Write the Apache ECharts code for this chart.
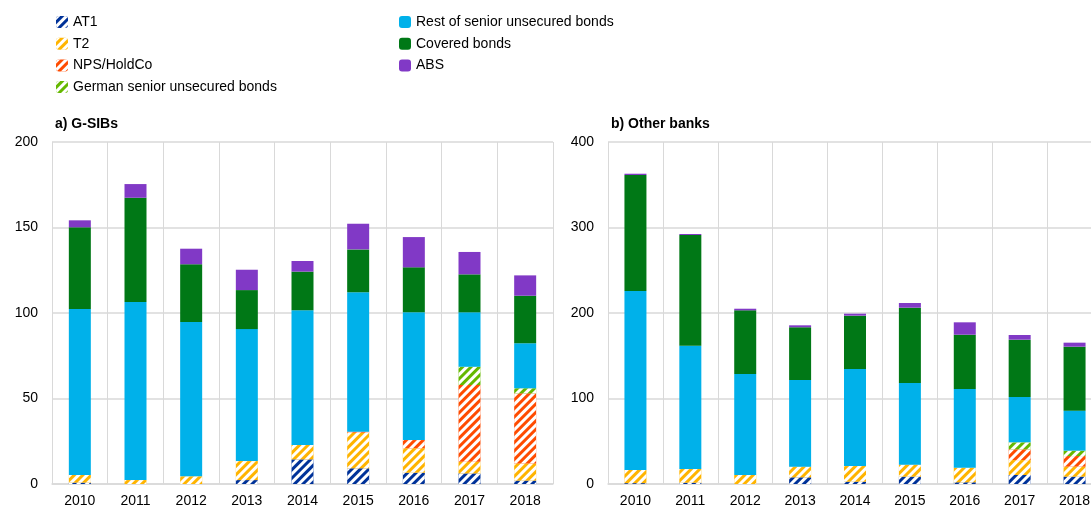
<!DOCTYPE html>
<html><head><meta charset="utf-8">
<script src="https://cdn.jsdelivr.net/npm/echarts@6/dist/echarts.min.js"></script>
<style>html,body{margin:0;padding:0;background:#fff}#c{width:1091px;height:508px}</style>
</head><body><div id="c"></div>
<script>
const years = ['2010','2011','2012','2013','2014','2015','2016','2017','2018'];
const seriesNames = ['AT1','T2','NPS/HoldCo','German senior unsecured bonds','Rest of senior unsecured bonds','Covered bonds','ABS'];
// a) G-SIBs
const gsibAT1    = [0.8, 0, 0, 2.3, 14.4, 9.2, 6.6, 6.2, 2];
const gsibT2     = [4.5, 2.3, 4.5, 11.1, 8.4, 20.8, 14.3, 6.8, 10];
const gsibNPS    = [0, 0, 0, 0, 0, 0.6, 4.8, 44.9, 41];
const gsibGerman = [0, 0, 0, 0, 0, 0, 0, 10.7, 3];
const gsibRest   = [97, 104.1, 90.2, 77.2, 78.8, 81.5, 74.7, 31.8, 26.3];
const gsibCovered= [47.8, 61, 33.8, 22.8, 22.6, 25.1, 26.3, 22.2, 27.8];
const gsibABS    = [4.1, 8, 9.1, 11.9, 6.2, 15, 17.7, 13.1, 11.9];
// b) Other banks
const othAT1     = [1, 1.5, 0, 7.8, 2.7, 8.6, 2, 10.5, 8.6];
const othT2      = [15.4, 16, 10.5, 12.5, 18.3, 14, 17, 17.5, 11.7];
const othNPS     = [0, 0, 0, 0, 0, 0, 0, 12.6, 12.4];
const othGerman  = [0, 0, 0, 0, 0, 0, 0, 8.1, 6.3];
const othRest    = [209.3, 144.3, 118.2, 101.3, 113.5, 95.5, 92.1, 53.1, 46.8];
const othCovered = [135.7, 129.4, 74.4, 61.7, 62.4, 88.1, 63.5, 67, 74.8];
const othABS     = [1.5, 1.2, 1.9, 2.3, 2.3, 5.5, 14.5, 5.5, 4.7];
const yTicksLeft = [0, 50, 100, 150, 200];
const yTicksRight = [0, 100, 200, 300, 400];

const colors = ['#003299','#ffb400','#ff4b00','#65b800','#00b1ea','#007816','#8139c6'];
const hatched = [true,true,true,true,false,false,false];
const gsib = [gsibAT1,gsibT2,gsibNPS,gsibGerman,gsibRest,gsibCovered,gsibABS];
const oth = [othAT1,othT2,othNPS,othGerman,othRest,othCovered,othABS];

function mkSeries(data, idx, gi) {
  const item = { color: colors[idx] };
  if (hatched[idx]) {
    item.decal = { symbol: 'rect', symbolSize: 1, dashArrayX: [1, 0], dashArrayY: [2.5, 2.5], rotation: -Math.PI / 4, color: '#ffffff' };
  }
  return {
    name: seriesNames[idx], type: 'bar', stack: 's' + gi, xAxisIndex: gi, yAxisIndex: gi,
    barWidth: 22, data: data, itemStyle: item, emphasis: { disabled: true }
  };
}
const series = [];
gsib.forEach((d, i) => series.push(mkSeries(d, i, 0)));
oth.forEach((d, i) => series.push(mkSeries(d, i, 1)));

const font = 'Liberation Sans, Arial, sans-serif';
const catAxis = (gi) => ({
  type: 'category', gridIndex: gi, data: years,
  axisLine: { lineStyle: { color: '#d9d9d9', width: 1.5 } },
  axisTick: { show: false },
  axisLabel: { color: '#000', fontSize: 14, fontFamily: font, margin: 10 },
  splitLine: { show: true, lineStyle: { color: '#d9d9d9', width: 1 } }
});
const valAxis = (gi, ticks) => ({
  type: 'value', gridIndex: gi, min: ticks[0], max: ticks[ticks.length - 1], interval: ticks[1] - ticks[0],
  axisLine: { show: false }, axisTick: { show: false },
  axisLabel: { color: '#000', fontSize: 14, fontFamily: font, margin: 14 },
  splitLine: { lineStyle: { color: '#d9d9d9', width: 1.5 } }
});

const legendText = { color: '#000', fontSize: 14, fontFamily: font };
const chart = echarts.init(document.getElementById('c'), null, { renderer: 'canvas' });
chart.setOption({
  animation: false,
  textStyle: { fontFamily: font },
  title: [
    { text: 'a) G-SIBs', left: 50, top: 112, textStyle: { fontSize: 14, fontWeight: 'bold', color: '#000', fontFamily: font } },
    { text: 'b) Other banks', left: 606, top: 112, textStyle: { fontSize: 14, fontWeight: 'bold', color: '#000', fontFamily: font } }
  ],
  legend: [
    { data: seriesNames.slice(0, 4), orient: 'vertical', left: 51, top: 10, itemWidth: 12, itemHeight: 12, itemGap: 7.7, textStyle: legendText, selectedMode: false },
    { data: seriesNames.slice(4), orient: 'vertical', left: 394, top: 10, itemWidth: 12, itemHeight: 12, itemGap: 7.7, textStyle: legendText, selectedMode: false }
  ],
  grid: [
    { left: 52, width: 501, top: 142, bottom: 24, containLabel: false, outerBoundsMode: 'none' },
    { left: 608, width: 494, top: 142, bottom: 24, containLabel: false, outerBoundsMode: 'none' }
  ],
  xAxis: [catAxis(0), catAxis(1)],
  yAxis: [valAxis(0, yTicksLeft), valAxis(1, yTicksRight)],
  series: series
});
</script></body></html>
